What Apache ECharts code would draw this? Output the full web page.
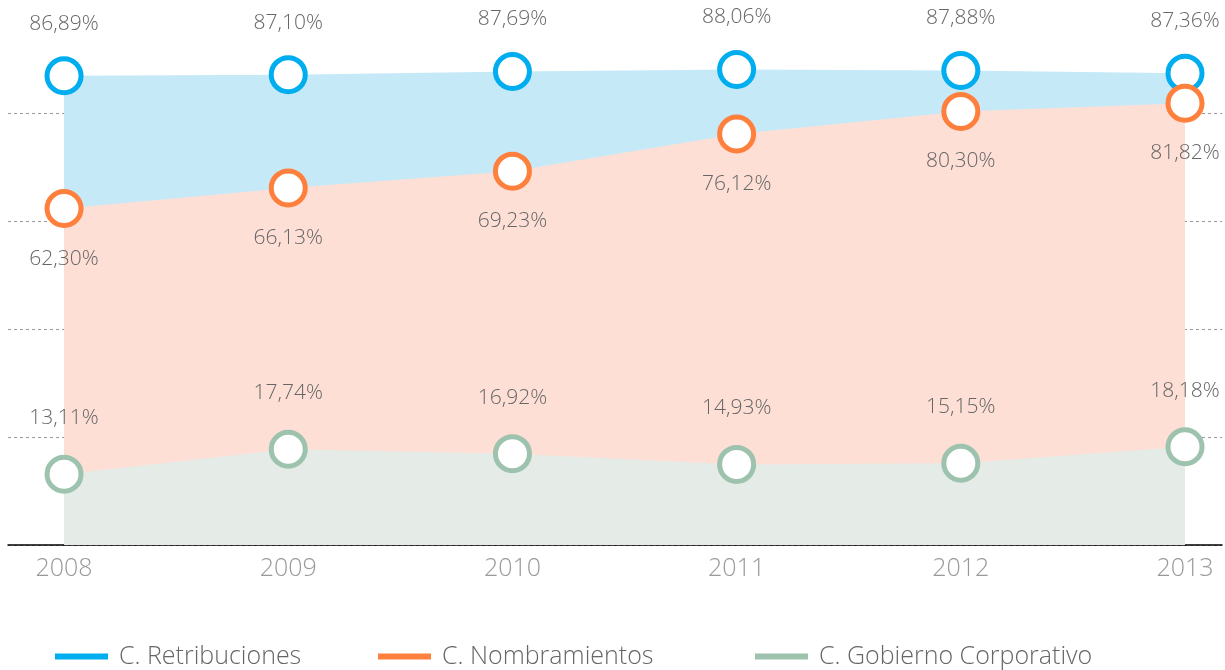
<!DOCTYPE html>
<html>
<head>
    <meta charset="utf-8">
    <title>Comisiones</title>
    <script src="https://cdn.jsdelivr.net/npm/echarts@6/dist/echarts.min.js"></script>
    <style>
        html, body { margin: 0; padding: 0; background: #fff; }
    </style>
</head>
<body>
    <div id="main" style="width: 1225px;height:670px;"></div>
    <script type="text/javascript">
        // datos
        var years = [2008, 2009, 2010, 2011, 2012, 2013];
        var retribuciones = [86.89, 87.10, 87.69, 88.06, 87.88, 87.36];
        var nombramientos = [62.30, 66.13, 69.23, 76.12, 80.30, 81.82];
        var gobierno = [13.11, 17.74, 16.92, 14.93, 15.15, 18.18];
        var names = ['C. Retribuciones', 'C. Nombramientos', 'C. Gobierno Corporativo'];
        var colores = ['#00aeef', '#ff7f3c', '#9dc2ad'];
        var areas = ['#c6e9f8', '#fddfd6', '#e5ebe7'];

        var font = "'Open Sans', sans-serif";
        var legendLeft = [55, 378, 755];

        function pares(vals) {
            return years.map(function (y, i) { return [y, vals[i]]; });
        }
        function pct(p) {
            return p.value[1].toFixed(2).replace('.', ',') + '%';
        }
        function serie(i, vals, pos, dist) {
            return {
                name: names[i],
                type: 'line',
                data: pares(vals),
                symbol: 'circle',
                symbolSize: 34,
                lineStyle: {width: 0},
                areaStyle: {color: areas[i], opacity: 1},
                itemStyle: {color: '#fff', borderColor: colores[i], borderWidth: 5},
                label: {
                    show: true,
                    position: pos,
                    distance: dist,
                    formatter: pct,
                    color: '#666',
                    fontSize: 21,
                    fontWeight: 300,
                    fontFamily: font
                },
                emphasis: {disabled: true}
            };
        }

        var myChart = echarts.init(document.getElementById('main'));

        // una leyenda por serie, para colocar cada una como en el original
        var leyendas = names.map(function (n, i) {
            return {
                left: legendLeft[i],
                top: 644,
                padding: 0,
                itemWidth: 53,
                itemHeight: 6,
                icon: 'rect',
                textStyle: {color: '#666', fontSize: 25, fontWeight: 300, fontFamily: font, padding: [0, 0, 0, 6]},
                data: [{name: n, itemStyle: {color: colores[i], borderWidth: 0}}]
            };
        });

        var option = {
            animation: false,
            grid: {left: 8, right: 0, top: 5, bottom: 125},
            legend: leyendas,
            xAxis: {
                type: 'value',
                min: 2007.75,
                max: 2013.165,
                interval: 0.25,
                axisLine: {show: true, lineStyle: {color: '#000', width: 1.5}},
                axisTick: {show: false},
                splitLine: {show: false},
                axisLabel: {
                    color: '#999',
                    fontSize: 25,
                    fontWeight: 300,
                    fontFamily: font,
                    margin: 11,
                    formatter: function (v) {
                        return Math.abs(v - Math.round(v)) < 1e-6 ? String(Math.round(v)) : '';
                    }
                }
            },
            yAxis: {
                type: 'value',
                min: 0,
                max: 100,
                interval: 20,
                axisLine: {show: false},
                axisTick: {show: false},
                axisLabel: {show: false},
                splitLine: {
                    show: true,
                    showMaxLine: false,
                    lineStyle: {color: '#999', type: [3, 3], width: 1}
                }
            },
            series: [
                serie(0, retribuciones, 'top', 22),
                serie(1, nombramientos, 'bottom', 20),
                serie(2, gobierno, 'top', 26)
            ]
        };

        myChart.setOption(option);
    </script>
</body>
</html>
